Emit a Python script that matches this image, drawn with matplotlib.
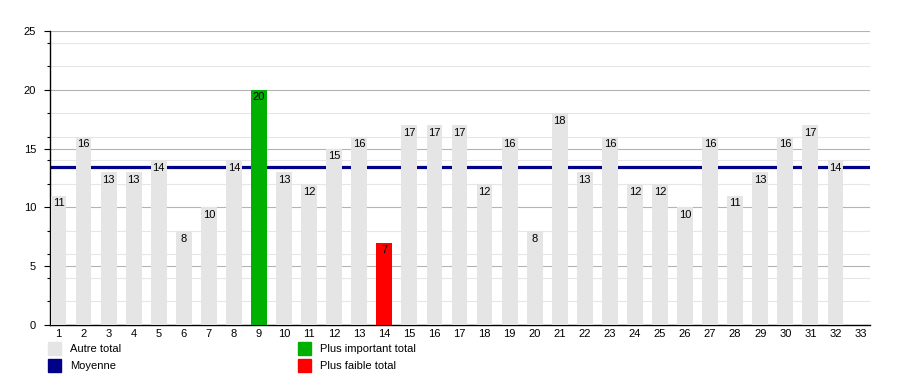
import matplotlib.pyplot as plt
from matplotlib.patches import Rectangle
from matplotlib.ticker import MultipleLocator

plt.rcParams['font.family'] = ['Liberation Sans', 'DejaVu Sans']

# daily totals (days 1..32), day 33 has no bar
days = list(range(1, 33))
totals = [11, 16, 13, 13, 14, 8, 10, 14, 20, 13, 12, 15, 16, 7, 17, 17,
          17, 12, 16, 8, 18, 13, 16, 12, 12, 10, 16, 11, 13, 16, 17, 14]
tick_days = list(range(1, 34))
mean_value = 13.4

legend_labels = ["Autre total", "Moyenne", "Plus important total", "Plus faible total"]

GRAY = "#e5e5e5"
GREEN = "#00b000"
RED = "#ff0000"
NAVY = "#000088"

fig = plt.figure(figsize=(9, 3.75), dpi=100)
ax = fig.add_axes([50 / 900, 50 / 375, 820 / 900, 294 / 375])

colors = []
for v in totals:
    if v == max(totals):
        colors.append(GREEN)
    elif v == min(totals):
        colors.append(RED)
    else:
        colors.append(GRAY)

ax.bar(days, totals, width=0.63, color=colors, zorder=3)
ax.axhline(mean_value, color=NAVY, lw=2.3, zorder=2)

for d, v in zip(days, totals):
    ax.annotate(str(v), (d, v), xytext=(0, -5.5), textcoords="offset points",
                ha="center", va="center", fontsize=8, color="black", zorder=4)

ax.set_xlim(0.66, 33.38)
ax.set_ylim(0, 25)
ax.set_xticks(tick_days)
ax.set_xticklabels([str(t) for t in tick_days], fontsize=8)
ax.yaxis.set_major_locator(MultipleLocator(5))
ax.yaxis.set_minor_locator(MultipleLocator(2))
ax.tick_params(axis="x", length=0, pad=3)
ax.tick_params(axis="y", which="major", length=4, width=0.8, labelsize=8, pad=6)
ax.tick_params(axis="y", which="minor", length=2, width=0.8)

ax.grid(axis="y", which="major", color="#b4b4b4", lw=0.8, zorder=0)
ax.grid(axis="y", which="minor", color="#e6e6e6", lw=0.8, zorder=0)
ax.set_axisbelow(True)

for s in ["top", "right"]:
    ax.spines[s].set_visible(False)
ax.spines["left"].set_linewidth(1)
ax.spines["bottom"].set_linewidth(1)

# legend drawn by hand below the axes
legend_items = [
    (48, 342, GRAY, legend_labels[0]),
    (48, 359, NAVY, legend_labels[1]),
    (298, 342, GREEN, legend_labels[2]),
    (298, 359, RED, legend_labels[3]),
]
for x, y, c, label in legend_items:
    fig.patches.append(Rectangle((x / 900, 1 - (y + 13) / 375), 13 / 900, 13 / 375,
                                 transform=fig.transFigure, color=c))
    fig.text((x + 22) / 900, 1 - (y + 7) / 375, label, fontsize=8, va="center")

fig.savefig("out.png", dpi=100)
